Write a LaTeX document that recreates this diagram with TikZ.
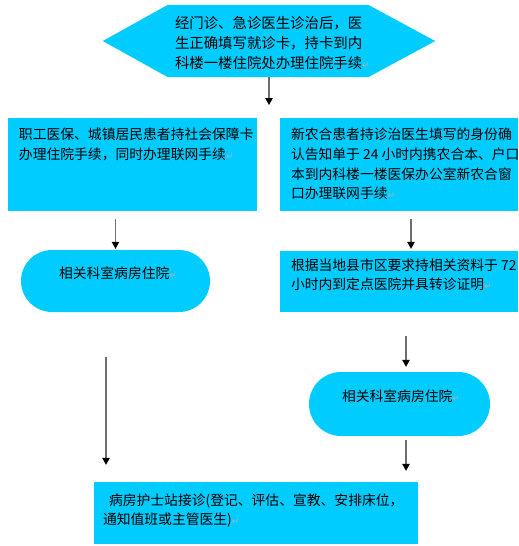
\documentclass[tikz,border=0pt]{standalone}
\usepackage{fontspec}
\setmainfont{Noto Sans CJK SC}
\newfontfamily\symfont{DejaVu Sans}
\usetikzlibrary{arrows.meta,calc}
\definecolor{boxblue}{RGB}{0,204,255}
\definecolor{linegray}{RGB}{110,110,110}
\newcommand{\retmark}{{\symfont\fontsize{9}{9}\selectfont\textcolor{gray!60}{↵}}}
\begin{document}
\begin{tikzpicture}[x=1pt,y=-1pt,
  blockbox/.style={fill=boxblue, draw=none, inner sep=0, rectangle},
  pillbox/.style={fill=boxblue, draw=none, inner sep=0, rectangle, rounded corners=#1},
  txt/.style={inner sep=0, align=left, anchor=north west, text=black,
    font=\fontsize{13.8}{20}\selectfont},
  arr/.style={draw=linegray, line width=1.1pt,
    -{Triangle[length=7pt,width=7.5pt,fill=black,color=black]}}]
\useasboundingbox (0,0) rectangle (519,546);

% top hexagon
\node[inner sep=0, minimum width=332pt, minimum height=72pt] (hex) at (269,41) {};
\fill[boxblue] (hex.west) -- ($(hex.north west)+(65,0)$) -- ($(hex.north east)+(-67,0)$)
  -- (hex.east) -- ($(hex.south east)+(-67,0)$) -- ($(hex.south west)+(65,0)$) -- cycle;
\node[txt, font=\fontsize{14.4}{20}\selectfont] (hext) at ($(hex.north west)+(72,11)$)
  {经门诊、急诊医生诊治后，医\\生正确填写就诊卡，持卡到内\\科楼一楼住院处办理住院手续\retmark};

% boxes
\node[blockbox, minimum width=249pt, minimum height=93pt] (L1) at (132.5,164.5) {};
\node[txt] (L1t) at ($(L1.north west)+(11,10)$)
  {职工医保、城镇居民患者持社会保障卡\\办理住院手续，同时办理联网手续\retmark};

\node[blockbox, minimum width=238pt, minimum height=93pt] (R1) at (399,164.5) {};
\node[txt, font=\fontsize{13.8}{19.7}\selectfont] (R1t) at ($(R1.north west)+(11,10)$)
  {新农合患者持诊治医生填写的身份确\\认告知单于 24 小时内携农合本、户口\\本到内科楼一楼医保办公室新农合窗\\口办理联网手续\retmark};

\node[pillbox=31pt, minimum width=189pt, minimum height=62pt] (L2) at (115.5,281) {};
\node[txt] (L2t) at ($(L2.north west)+(38,17)$) {相关科室病房住院\retmark};

\node[blockbox, minimum width=238pt, minimum height=61pt] (R2) at (399,281.5) {};
\node[txt, font=\fontsize{13.8}{18.5}\selectfont] (R2t) at ($(R2.north west)+(11,8)$)
  {根据当地县市区要求持相关资料于 72\\小时内到定点医院并具转诊证明\retmark};

\node[pillbox=32pt, minimum width=181pt, minimum height=64pt] (R3) at (399.5,404) {};
\node[txt] (R3t) at ($(R3.north west)+(33,18)$) {相关科室病房住院\retmark};

\node[blockbox, minimum width=324pt, minimum height=62pt] (B) at (256,513) {};
\node[txt, font=\fontsize{13.8}{19}\selectfont] (Bt) at ($(B.north west)+(9,12)$)
  {\hspace*{6pt}病房护士站接诊(登记、评估、宣教、安排床位，\\通知值班或主管医生)\retmark};

% connectors
\coordinate (a1end) at (269,105);
\draw[arr] (hex.south) -- (a1end);
\draw[arr] ($(L1.south -| L2.north)+(0,8)$) -- ($(L2.north)+(0,-1)$);
\draw[arr] ($(R1.south)+(12,8)$) -- ($(R2.north)+(12,-2)$);
\draw[arr] ($(R2.south)+(7,24)$) -- ($(R3.north)+(6.5,-5)$);
\draw[arr] ($(R3.south)+(6.5,4)$) -- ($(B.north -| R3.south)+(6.5,-11)$);
\draw[arr] ($(L2.south)+(-9.5,45)$) -- ($(B.north -| L2.south)+(-9.5,-17)$);
\end{tikzpicture}
\end{document}
